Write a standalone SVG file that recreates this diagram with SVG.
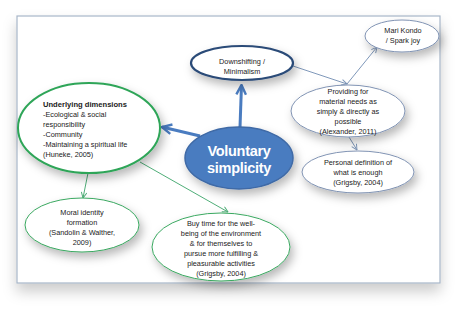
<svg xmlns="http://www.w3.org/2000/svg" width="474" height="317" viewBox="0 0 474 317">
<defs>
<filter id="sh" x="-30%" y="-30%" width="160%" height="180%">
<feDropShadow dx="3" dy="5" stdDeviation="5" flood-color="#000" flood-opacity="0.28"/>
</filter>
<filter id="fsh" x="-10%" y="-10%" width="120%" height="130%">
<feDropShadow dx="0" dy="8" stdDeviation="7" flood-color="#000" flood-opacity="0.2"/>
</filter>
<marker id="ab" viewBox="0 0 10 10" refX="9" refY="5" markerWidth="4" markerHeight="4" orient="auto" markerUnits="strokeWidth">
<path d="M1,1 L9,5 L1,9" fill="none" stroke="#4a7cc0" stroke-width="2"/>
</marker>
<marker id="at" viewBox="0 0 10 10" refX="9" refY="5" markerWidth="7" markerHeight="7" orient="auto" markerUnits="strokeWidth">
<path d="M1,1 L9,5 L1,9" fill="none" stroke="#7f98ba" stroke-width="1.4"/>
</marker>
<marker id="ag" viewBox="0 0 10 10" refX="9" refY="5" markerWidth="7" markerHeight="7" orient="auto" markerUnits="strokeWidth">
<path d="M1,1 L9,5 L1,9" fill="none" stroke="#4fae78" stroke-width="1.4"/>
</marker>
</defs>
<style>
text{font-family:"Liberation Sans",Arial,sans-serif;font-size:7.3px;fill:#222;}
.c{text-anchor:middle;}
.b{font-weight:bold;font-size:7.6px;}
.big{fill:#fff;font-size:14.5px;font-weight:bold;letter-spacing:-0.3px;}
.wn{fill:#fff;stroke:#8093b3;stroke-width:1;filter:url(#sh);}
.gn{fill:#fff;stroke:#3aa860;stroke-width:1;filter:url(#sh);}
.thick{stroke:#4a7cc0;stroke-width:3;fill:none;marker-end:url(#ab);}
.tb{stroke:#7f98ba;stroke-width:1;fill:none;marker-end:url(#at);}
.tg{stroke:#4fae78;stroke-width:1;fill:none;marker-end:url(#ag);}
</style>
<rect x="0" y="0" width="474" height="317" fill="#fff"/>
<rect x="17" y="16" width="423" height="267" fill="#fff" stroke="#a7b6c8" stroke-width="1.2" filter="url(#fsh)"/>
<g id="connectors">
<line class="thick" x1="240" y1="127" x2="241.5" y2="85"/>
<line class="thick" x1="200" y1="136" x2="162" y2="127"/>
<line class="tb" x1="293" y1="66" x2="347" y2="84"/>
<line class="tb" x1="347" y1="84" x2="377" y2="47"/>
<line class="tb" x1="349" y1="137" x2="357" y2="150"/>
<line class="tg" x1="88" y1="173" x2="83" y2="198"/>
<line class="tg" x1="140" y1="162" x2="228" y2="212"/>
</g>
<g id="mari">
<ellipse class="wn" cx="402" cy="36" rx="37" ry="16"/>
<text class="c" x="403" y="33">Mari Kondo</text>
<text class="c" x="403" y="43">/ Spark joy</text>
</g>
<g id="downshifting">
<ellipse cx="242" cy="63" rx="51" ry="17" fill="#fff" stroke="#2c4b78" stroke-width="2.2" filter="url(#sh)"/>
<text class="c" x="242" y="64">Downshifting /</text>
<text class="c" x="242" y="74">Minimalism</text>
</g>
<g id="providing">
<ellipse class="wn" cx="348" cy="111" rx="57" ry="26"/>
<text class="c" x="348" y="94">Providing for</text>
<text class="c" x="348" y="104">material needs as</text>
<text class="c" x="348" y="114">simply &amp; directly as</text>
<text class="c" x="348" y="124">possible</text>
<text class="c" x="348" y="134">(Alexander, 2011)</text>
</g>
<g id="personal">
<ellipse class="wn" cx="358" cy="172" rx="56" ry="21"/>
<text class="c" x="358" y="165">Personal definition of</text>
<text class="c" x="358" y="175">what is enough</text>
<text class="c" x="358" y="185">(Grigsby, 2004)</text>
</g>
<g id="underlying">
<ellipse cx="89" cy="128" rx="71" ry="45" fill="#fff" stroke="#2fa558" stroke-width="2" filter="url(#sh)"/>
<text class="b" x="43" y="107">Underlying dimensions</text>
<text x="43" y="117">-Ecological &amp; social</text>
<text x="43" y="127">responsibility</text>
<text x="43" y="137">-Community</text>
<text x="43" y="147">-Maintaining a spiritual life</text>
<text x="43" y="157">(Huneke, 2005)</text>
</g>
<g id="voluntary">
<ellipse cx="239" cy="158" rx="54" ry="31" fill="#4a7cc0" stroke="#3f6aa6" stroke-width="1.5" filter="url(#sh)"/>
<text class="c big" x="239" y="156">Voluntary</text>
<text class="c big" x="239" y="173">simplicity</text>
</g>
<g id="moral">
<ellipse class="gn" cx="82" cy="225" rx="57" ry="27"/>
<text class="c" x="82" y="215">Moral identity</text>
<text class="c" x="82" y="225">formation</text>
<text class="c" x="82" y="235">(Sandolin &amp; Walther,</text>
<text class="c" x="82" y="245">2009)</text>
</g>
<g id="buytime">
<ellipse class="gn" cx="221" cy="247" rx="69" ry="34"/>
<text class="c" x="221" y="226">Buy time for the well-</text>
<text class="c" x="221" y="236">being of the environment</text>
<text class="c" x="221" y="246">&amp; for themselves to</text>
<text class="c" x="221" y="256">pursue more fulfilling &amp;</text>
<text class="c" x="221" y="266">pleasurable activities</text>
<text class="c" x="221" y="276">(Grigsby, 2004)</text>
</g>
</svg>
